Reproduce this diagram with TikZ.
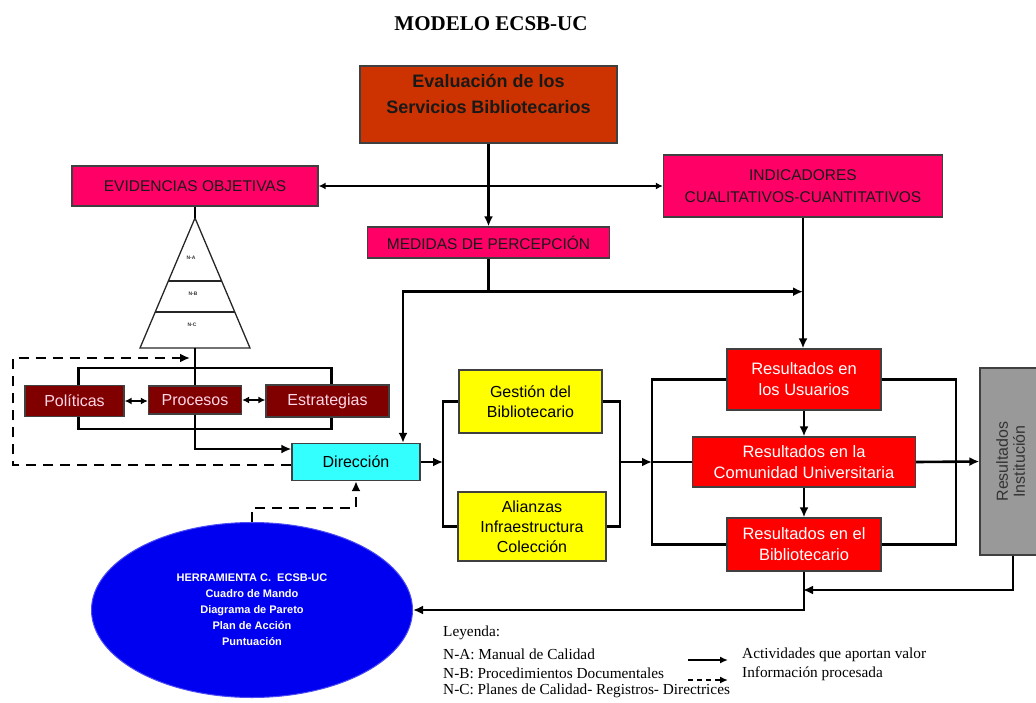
\documentclass[tikz,border=0pt]{standalone}
\usepackage{fontspec}
\setmainfont{Liberation Serif}
\setsansfont{Liberation Sans}
\usepackage{graphicx}
\usepackage{xcolor}
\definecolor{evalred}{HTML}{CC3300}
\definecolor{hotpink}{HTML}{FF0066}
\definecolor{maroonfill}{HTML}{800000}
\definecolor{pinktext}{HTML}{FFD6E6}
\definecolor{cyanfill}{HTML}{33FFFF}
\definecolor{yellowfill}{HTML}{FFFF00}
\definecolor{redfill}{HTML}{FF0000}
\definecolor{grayfill}{HTML}{999999}
\definecolor{toolblue}{HTML}{0000F0}
\usetikzlibrary{arrows.meta,positioning,calc,shapes.geometric}

\begin{document}
\begin{tikzpicture}[
  x=1pt, y=-1pt,
  box/.style={rectangle, draw=black!75, line width=1.3pt, align=center, inner sep=2pt,
              font=\sffamily\fontsize{16}{20}\selectfont},
  evalbox/.style={box, fill=evalred, text=black!90,
                  font=\sffamily\bfseries\fontsize{18}{26}\selectfont},
  pinkbox/.style={box, fill=hotpink, text=black!90,
                  font=\sffamily\fontsize{15.5}{22}\selectfont},
  polbox/.style={box, fill=maroonfill, text=pinktext},
  dirbox/.style={box, fill=cyanfill},
  ylwbox/.style={box, fill=yellowfill},
  redbox/.style={box, fill=redfill, text=white, font=\sffamily\fontsize{16.5}{21}\selectfont},
  graybox/.style={box, fill=grayfill, text=black!80, font=\sffamily\fontsize{16}{17}\selectfont},
  tool/.style={ellipse, fill=toolblue, draw=toolblue!70!white, line width=1pt, text=white,
               align=center, font=\sffamily\bfseries\fontsize{11}{16}\selectfont},
  wire/.style={line width=2.6pt, black},
  link/.style={wire, -{Latex[length=10pt,width=9pt]}},
  both/.style={wire, {Latex[length=7pt,width=7pt]}-{Latex[length=7pt,width=7pt]}},
  dlink/.style={link, line width=2.8pt, dash pattern=on 10pt off 7pt},
  pyr/.style={line width=1.3pt, black!85},
  tiny/.style={font=\sffamily\bfseries\fontsize{5}{6}\selectfont, text=black!80},
  leg/.style={font=\fontsize{15.3}{18}\selectfont, inner sep=0pt, anchor=west},
]
\useasboundingbox (0,0) rectangle (1036,702);

% ---------- title
\node[font=\bfseries\fontsize{21}{24}\selectfont] (title) at (491,24) {MODELO ECSB-UC};

% ---------- upper boxes
\node[evalbox, minimum width=257pt, minimum height=77pt] (eval) at (488.5,104.5)
  {Evaluación de los\\Servicios Bibliotecarios\\[-4pt]};
\node[pinkbox, minimum width=246pt, minimum height=40pt] (evid) at (195,186) {EVIDENCIAS OBJETIVAS};
\node[pinkbox, minimum width=279pt, minimum height=62pt] (indic) at (803,186)
  {INDICADORES\\CUALITATIVOS-CUANTITATIVOS};
\node[pinkbox, minimum width=242pt, minimum height=31pt] (medid) at (488.5,242.5) {MEDIDAS DE PERCEPCIÓN};

\draw[link] (eval.south) -- (eval.south |- medid.north);
\draw[both] (evid.east) -- (indic.west);

% ---------- pyramid
\coordinate (apex) at (195,218);
\coordinate (pbl) at (140,348);
\coordinate (pbr) at (250,348);
\coordinate (pbase) at (195,348);
\draw[pyr] (apex) -- (pbr) -- (pbl) -- cycle;
\draw[pyr] ($(apex)!0.485!(pbl)$) -- ($(apex)!0.485!(pbr)$);
\draw[pyr] ($(apex)!0.723!(pbl)$) -- ($(apex)!0.723!(pbr)$);
\node[tiny] (na) at (191,258) {N-A};
\node[tiny] (nb) at (193,294) {N-B};
\node[tiny] (nc) at (192,325) {N-C};
\draw[wire] (evid.south) -- (apex);

% ---------- policies, processes, strategies
\node[polbox, minimum width=99pt, minimum height=31pt] (polit) at (74.5,401) {Políticas};
\node[polbox, minimum width=93pt, minimum height=28pt] (proce) at (195,400) {Procesos};
\node[polbox, minimum width=123pt, minimum height=32pt] (estra) at (327.5,401) {Estrategias};
\draw[both] (polit.east) -- (polit.east -| proce.west);
\draw[both] (proce.east) -- (proce.east -| estra.west);
\draw[wire] (pbase) -- (pbase |- proce.north);
\draw[wire] ([xshift=4pt]polit.north) -- ++(0,-17) -| ([xshift=4pt]estra.north);
\draw[wire] ([xshift=4pt]polit.south) -- ++(0,12) -| ([xshift=4pt]estra.south);

% ---------- direction
\node[dirbox, minimum width=128pt, minimum height=37pt] (direc) at (356,462) {Dirección};
\draw[link] (proce.south) |- ([yshift=13pt]direc.west);
\coordinate (dcorner) at (13,358);
\coordinate (dend) at (190,358);
\draw[dlink] ([yshift=-3pt]direc.west) -| (dcorner) -- (dend);

\draw[wire] (medid.south) -- ++(0,33) coordinate (mj);
\draw[link] (mj) -| ([xshift=47pt]direc.north);
\draw[link] (mj) -- (mj -| indic.south);

% ---------- library management
\node[ylwbox, minimum width=143pt, minimum height=63pt] (gest) at (530.5,401.5) {Gestión del\\Bibliotecario};
\node[ylwbox, minimum width=148pt, minimum height=69pt] (alian) at (532,526.5)
  {Alianzas\\Infraestructura\\Colección};
\coordinate (yl) at (443,462);
\coordinate (yr) at (620,462);
\draw[link] (direc.east) -- (yl);
\draw[wire] (gest.west) -| (yl) |- (alian.west);
\draw[wire] (gest.east) -| (yr) |- (alian.east);

% ---------- results
\node[redbox, minimum width=154pt, minimum height=61pt] (rusu) at (804,379.5) {Resultados en\\los Usuarios};
\node[redbox, minimum width=223pt, minimum height=50pt] (rcom) at (804,462)
  {Resultados en la\\Comunidad Universitaria};
\node[redbox, minimum width=154pt, minimum height=53pt] (rbib) at (804,544.5) {Resultados en el\\Bibliotecario};
\node[graybox, minimum width=66pt, minimum height=187pt] (rinst) at (1013,461.5)
  {\rotatebox{90}{\begin{tabular}{@{}c@{}}Resultados\\Institución\end{tabular}}};
\coordinate (rl) at (652,462);
\coordinate (rr) at (956,462);
\draw[link] (yr) -- (rl);
\draw[wire] (rusu.west) -| (rl) |- (rbib.west);
\draw[wire] (rl) -- (rcom.west);
\draw[wire] (rusu.east) -| (rr) |- (rbib.east);
\draw[link] (rcom.east) -- (rinst.west);
\draw[link] (rusu.south) -- (rcom.north);
\draw[link] (rcom.south) -- (rbib.north);
\draw[link] (indic.south) -- (indic.south |- rusu.north);

% ---------- feedback to the tools
\node[tool, minimum width=321pt, minimum height=175pt] (herr) at (252,610)
  {HERRAMIENTA C.\ \ ECSB-UC\\Cuadro de Mando\\Diagrama de Pareto\\Plan de Acción\\Puntuación};
\coordinate (fb) at (803,590);
\draw[link] (rinst.south) |- (fb);
\draw[link] (rbib.south) |- (herr.east);
\draw[dlink] (herr.north) -- ++(0,-14) -| (direc.south);

% ---------- legend
\node[leg] (leyenda) at (443,633) {Leyenda:};
\node[leg] (lna) at (443,654) {N-A: Manual de Calidad};
\node[leg] (lnb) at (443,673) {N-B: Procedimientos Documentales};
\node[leg] (lnc) at (443,691) {N-C: Planes de Calidad- Registros- Directrices};
\node[leg] (lact) at (742,655) {Actividades que aportan valor};
\node[leg] (linf) at (742,674) {Información procesada};
\coordinate (sa) at (688,660);
\coordinate (sb) at (728,660);
\coordinate (da) at (688,680);
\coordinate (db) at (728,680);
\draw[-{Latex[length=8pt,width=7pt]}, line width=1.8pt] (sa) -- (sb);
\draw[-{Latex[length=8pt,width=7pt]}, line width=1.8pt, dash pattern=on 5pt off 4pt] (da) -- (db);
\end{tikzpicture}
\end{document}
